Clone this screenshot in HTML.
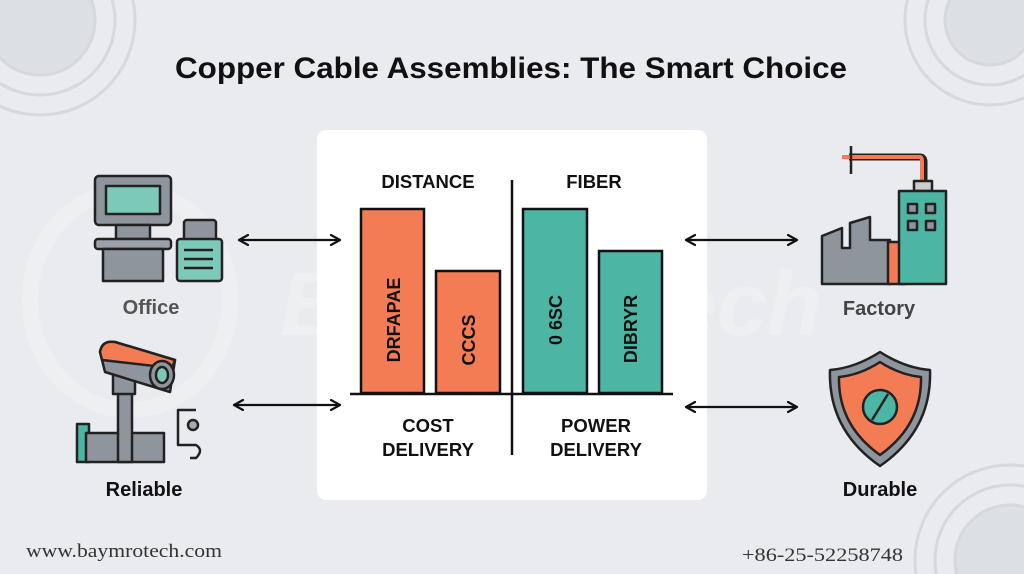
<!DOCTYPE html>
<html style="width:1024px;height:574px;overflow:hidden;"><head><meta charset="utf-8"><style>
html,body{margin:0;padding:0;width:1024px;height:574px;overflow:hidden;}
body{background:#e9ebee;font-family:"Liberation Sans",sans-serif;}
svg{display:block;position:absolute;left:0;top:0;}
</style></head><body>
<svg width="1024" height="574" viewBox="0 0 1024 574" xmlns="http://www.w3.org/2000/svg" font-family="Liberation Sans, sans-serif" overflow="hidden">
<defs>
<marker id="ah" viewBox="0 0 12 12" refX="10" refY="6" markerWidth="12" markerHeight="12" markerUnits="userSpaceOnUse" orient="auto-start-reverse">
<path d="M1,1 L10,6 L1,11" fill="none" stroke="#111" stroke-width="2.2" stroke-linecap="round" stroke-linejoin="round"/>
</marker>
<clipPath id="c"><rect width="1024" height="574"/></clipPath>
</defs>
<g clip-path="url(#c)">
<rect width="1024" height="574" fill="#e9ebee"/>
<g fill="none" stroke="#d5d8dc" stroke-width="3">
<circle cx="40" cy="20" r="55" fill="#dcdfe3"/><circle cx="40" cy="20" r="75"/><circle cx="40" cy="20" r="95"/>
<circle cx="990" cy="20" r="45" fill="#dcdfe3"/><circle cx="990" cy="20" r="65"/><circle cx="990" cy="20" r="85"/>
<circle cx="1010" cy="560" r="55" fill="#dcdfe3"/><circle cx="1010" cy="560" r="75"/><circle cx="1010" cy="560" r="95"/>
</g>
<ellipse cx="130" cy="300" rx="100" ry="110" fill="none" stroke="#f1f2f4" stroke-width="16" opacity="0.6"/>
<text x="280" y="335" font-size="90" font-weight="bold" font-style="italic" fill="#f1f2f4" opacity="0.6">BaymroTech</text>
<text x="511" y="78" font-size="30" font-weight="bold" fill="#111" text-anchor="middle" textLength="672" lengthAdjust="spacingAndGlyphs">Copper Cable Assemblies: The Smart Choice</text>
<rect x="317" y="130" width="390" height="370" rx="9" fill="#fff"/>
<g font-weight="bold" font-size="18.5" fill="#111" text-anchor="middle">
<text x="428" y="188">DISTANCE</text><text x="594" y="188">FIBER</text>
<text x="428" y="432">COST</text><text x="428" y="456">DELIVERY</text>
<text x="596" y="432">POWER</text><text x="596" y="456">DELIVERY</text>
</g>
<g stroke="#111" stroke-width="2.5">
<rect x="361" y="209" width="63" height="184" fill="#f47c55"/>
<rect x="436" y="271" width="64" height="122" fill="#f47c55"/>
<rect x="523" y="209" width="64" height="184" fill="#4db5a3"/>
<rect x="599" y="251" width="63" height="142" fill="#4db5a3"/>
<line x1="350" y1="394" x2="673" y2="394"/>
<line x1="512" y1="180" x2="512" y2="455"/>
</g>
<g font-weight="bold" font-size="18" fill="#111" text-anchor="middle">
<text transform="translate(400,320) rotate(-90)">DRFAPAE</text>
<text transform="translate(475,340) rotate(-90)">CCCS</text>
<text transform="translate(562,320) rotate(-90)">0 6SC</text>
<text transform="translate(637,329) rotate(-90)">DIBRYR</text>
</g>
<g stroke="#111" stroke-width="2.2" marker-start="url(#ah)" marker-end="url(#ah)">
<line x1="239" y1="240" x2="340" y2="240"/>
<line x1="234" y1="405" x2="340" y2="405"/>
<line x1="686" y1="240" x2="797" y2="240"/>
<line x1="686" y1="407" x2="797" y2="407"/>
</g>
<g stroke="#222" stroke-width="2.5" stroke-linejoin="round">
<rect x="95" y="176" width="76" height="49" rx="4" fill="#8e959c"/>
<rect x="106" y="186" width="54" height="28" fill="#7cc9b7"/>
<rect x="116" y="225" width="34" height="14" fill="#8e959c"/>
<rect x="95" y="239" width="76" height="10" rx="3" fill="#9aa1a8"/>
<rect x="103" y="249" width="60" height="32" fill="#8e959c"/>
<rect x="184" y="220" width="32" height="22" rx="3" fill="#8e959c"/>
<rect x="177" y="239" width="45" height="42" rx="3" fill="#7cc9b7"/>
<line x1="184" y1="250" x2="213" y2="250"/><line x1="184" y1="259" x2="213" y2="259"/><line x1="184" y1="268" x2="213" y2="268"/>
</g>
<text x="151" y="314" font-size="20" font-weight="bold" fill="#555" text-anchor="middle">Office</text>
<g stroke="#222" stroke-width="2.5" stroke-linejoin="round">
<rect x="77" y="424" width="12" height="38" fill="#4db5a3"/>
<rect x="86" y="433" width="78" height="29" fill="#8e959c"/>
<rect x="118" y="392" width="14" height="70" fill="#8e959c"/>
<rect x="113" y="374" width="22" height="20" fill="#8e959c"/>
<path d="M100,352 Q102,340 115,342 L175,360 L170,392 L105,372 Z" fill="#8e959c"/>
<path d="M100,352 Q102,340 115,342 L175,360 L172,368 L102,360 Z" fill="#f47c55"/>
<ellipse cx="162" cy="375" rx="12" ry="14" fill="#8e959c"/>
<ellipse cx="162" cy="375" rx="6" ry="8" fill="#7cc9b7"/>
<path d="M196,410 H178 V445 H196 Q204,450 196,458 H190" fill="none"/>
<circle cx="193" cy="425" r="5" fill="#aaa"/>
</g>
<text x="144" y="496" font-size="20" font-weight="bold" fill="#111" text-anchor="middle">Reliable</text>
<g stroke="#222" stroke-width="2.5" stroke-linejoin="round">
<path d="M849,157 H920 Q924,157 924,162 V182" fill="none" stroke="#222" stroke-width="7"/>
<path d="M842,157 H920 Q922,157 922,162 V180" fill="none" stroke="#f47c55" stroke-width="4"/>
<line x1="851" y1="146" x2="851" y2="174"/>
<rect x="914" y="181" width="18" height="10" fill="#ccc"/>
<path d="M822,236 L842,228 V248 H850 V223 L870,217 V240 H890 V284 H822 Z" fill="#8e959c"/>
<rect x="888" y="242" width="18" height="42" fill="#f47c55"/>
<rect x="899" y="191" width="47" height="93" fill="#4db5a3"/>
<rect x="908" y="204" width="9" height="9" fill="#8e959c"/><rect x="926" y="204" width="9" height="9" fill="#8e959c"/>
<rect x="908" y="221" width="9" height="9" fill="#8e959c"/><rect x="926" y="221" width="9" height="9" fill="#8e959c"/>
</g>
<text x="879" y="315" font-size="20" font-weight="bold" fill="#444" text-anchor="middle">Factory</text>
<g stroke="#222" stroke-width="2.5" stroke-linejoin="round">
<path d="M880,352 Q905,368 930,370 Q932,430 880,466 Q828,430 830,370 Q855,368 880,352 Z" fill="#8e959c"/>
<path d="M880,362 Q900,375 921,377 Q922,425 880,455 Q838,425 839,377 Q860,375 880,362 Z" fill="#f47c55"/>
<circle cx="880" cy="407" r="17" fill="#4db5a3"/>
<line x1="872" y1="420" x2="888" y2="394"/>
</g>
<text x="880" y="496" font-size="20" font-weight="bold" fill="#111" text-anchor="middle">Durable</text>
<text x="26" y="557" font-family="Liberation Serif, serif" font-size="19" fill="#333" textLength="196" lengthAdjust="spacingAndGlyphs">www.baymrotech.com</text>
<text x="742" y="561" font-family="Liberation Serif, serif" font-size="19" fill="#333" textLength="161" lengthAdjust="spacingAndGlyphs">+86-25-52258748</text>
</g>
</svg>
</body></html>
